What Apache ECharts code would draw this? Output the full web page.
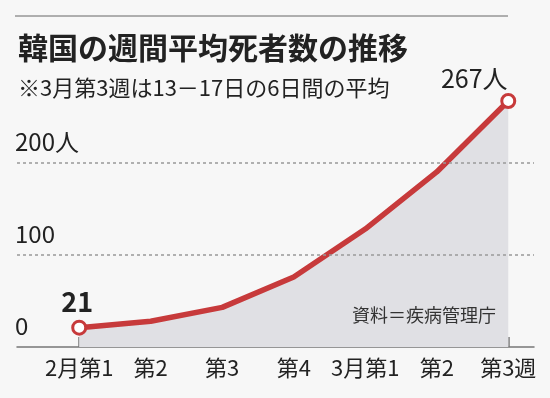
<!DOCTYPE html>
<html><head><meta charset="utf-8">
<script src="https://cdn.jsdelivr.net/npm/echarts@6/dist/echarts.min.js"></script>
<style>html,body{margin:0;padding:0;background:#f7f7f7}#c{width:550px;height:398px}</style>
</head><body><div id="c"></div>
<script>
const categories = ['2月第1','第2','第3','第4','3月第1','第2','第3週'];
const deaths = [21, 28, 43, 76, 128, 190, 267];
const yTicks = [0, 100, 200];
const yTickLabels = ['0', '100', '200人'];
const gridValues = [100, 200];
const titleText = '韓国の週間平均死者数の推移';
const subText = '※3月第3週は13－17日の6日間の平均';
const sourceText = '資料＝疾病管理庁';

const FONT = '"Noto Sans CJK JP", "Noto Sans", sans-serif';
const RED = '#c73a3b';
const chart = echarts.init(document.getElementById('c'), null, {renderer:'canvas'});

const data = deaths.map((v, i) => {
  const item = {value: [i, v], symbol: 'none'};
  if (i === 0) {
    item.symbol = 'circle';
    item.label = {show: true, position: 'top', distance: 4, formatter: p => String(p.value[1]),
      fontSize: 27, fontWeight: 'bold', color: '#222', fontFamily: FONT, offset: [-2, 0]};
  }
  if (i === deaths.length - 1) {
    item.symbol = 'circle';
    item.label = {show: true, position: 'top', distance: 2, formatter: p => p.value[1] + '人',
      fontSize: 25, color: '#222', fontFamily: FONT, offset: [-34, 0]};
  }
  return item;
});

chart.setOption({
  backgroundColor: '#f7f7f7',
  animation: false,
  title: [
    {text: titleText, left: 13, top: 28, textStyle: {fontFamily: FONT, fontSize: 30, fontWeight: 'bold', color: '#222'}},
    {text: subText, left: 13, top: 72, textStyle: {fontFamily: FONT, fontSize: 22, fontWeight: 'normal', color: '#222'}},
    {text: sourceText, left: 347, top: 301, textStyle: {fontFamily: FONT, fontSize: 18, fontWeight: 'normal', color: '#333'}}
  ],
  graphic: [
    {type: 'line', shape: {x1: 15, y1: 16, x2: 508, y2: 16}, style: {stroke: '#666', lineWidth: 1}}
  ],
  grid: {left: 17, right: 16, top: 89, bottom: 51, containLabel: false},
  xAxis: {
    type: 'value', min: -0.87, max: 6.36,
    splitLine: {show: false},
    axisLine: {show: true, lineStyle: {color: '#777', width: 1.5}},
    axisTick: {show: true, inside: true, length: 10, customValues: categories.map((c, i) => i), lineStyle: {color: '#777', width: 1.5}},
    axisLabel: {show: true, customValues: categories.map((c, i) => i), formatter: v => categories[Math.round(v)] || '',
      fontFamily: FONT, fontSize: 22, color: '#222', margin: 10}
  },
  yAxis: {
    type: 'value', min: 0, max: 280,
    splitLine: {show: false},
    axisLine: {show: false}, axisTick: {show: false},
    axisLabel: {show: true, customValues: yTicks,
      formatter: v => { const k = yTicks.indexOf(v); return k >= 0 ? yTickLabels[k] : ''; },
      align: 'left', margin: 2, verticalAlign: 'bottom', lineHeight: 26, padding: [0, 0, 8, 0],
      fontFamily: FONT, fontSize: 24, color: '#222'}
  },
  series: [{
    type: 'line', data: data, smooth: false,
    symbolSize: 13,
    itemStyle: {color: '#fff', borderColor: RED, borderWidth: 3},
    lineStyle: {color: RED, width: 5.5, cap: 'round', join: 'round'},
    areaStyle: {color: '#e0e0e4', opacity: 1},
    z: 3,
    markLine: {
      silent: true, symbol: 'none', label: {show: false},
      lineStyle: {color: '#999', type: [3, 3], width: 1.5},
      data: gridValues.map(v => ({yAxis: v})),
      z: 4
    }
  }]
});
</script></body></html>
